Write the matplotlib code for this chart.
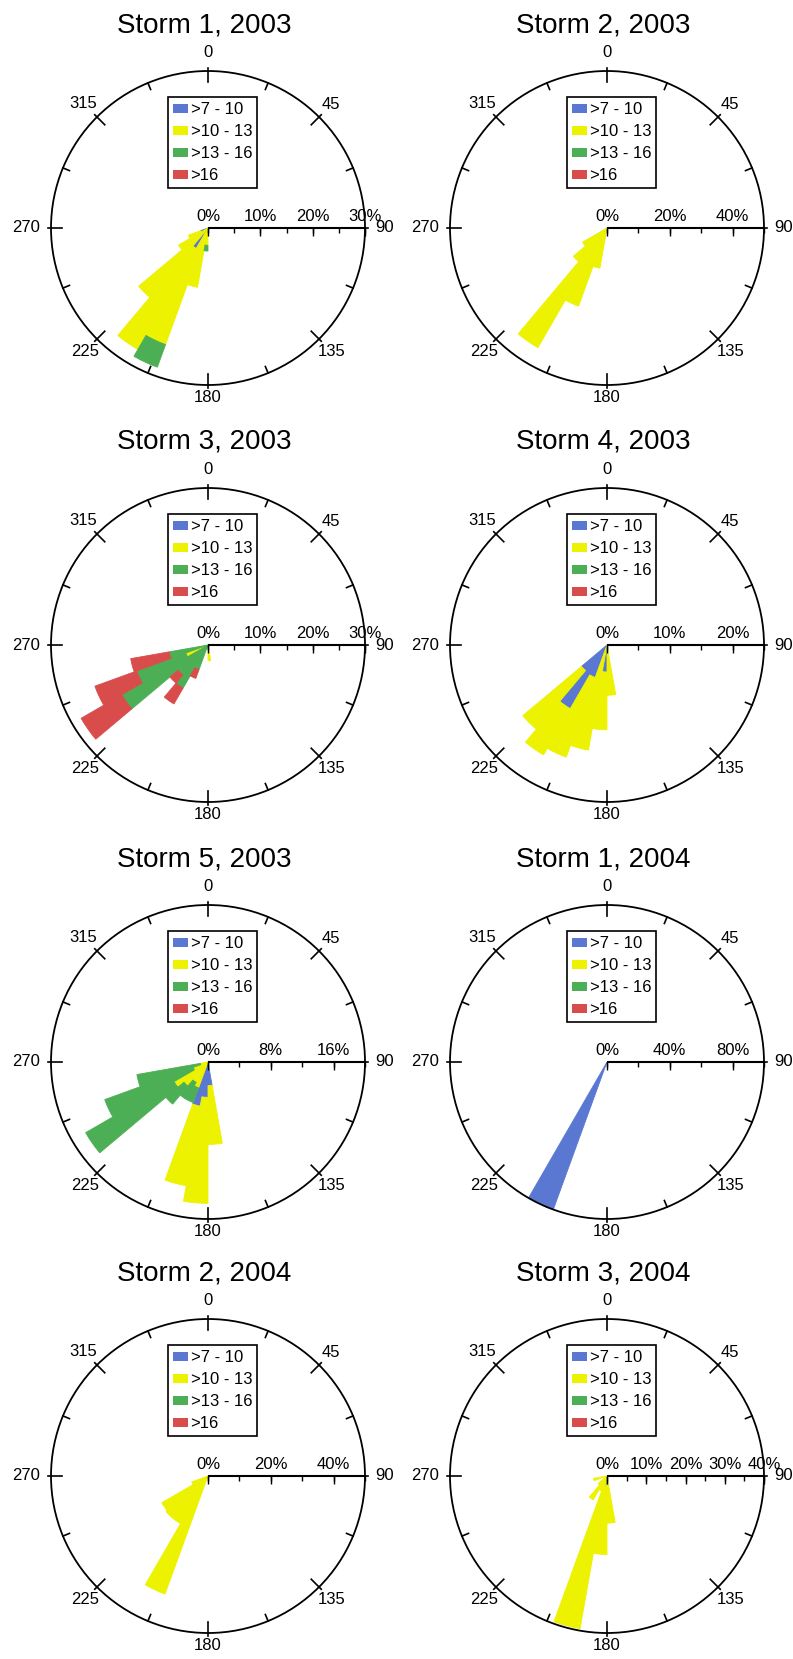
"""
Wind roses for eight storms (2003 / 2004), wind speed classes stacked per 10 deg sector
"""
import numpy as np
import matplotlib
matplotlib.use('Agg')
import matplotlib.pyplot as plt
from matplotlib.patches import Patch
from matplotlib.markers import TICKDOWN

plt.rcParams['font.family'] = ['Liberation Sans', 'DejaVu Sans']

# sector centres (deg from north, clockwise), 10 deg wide
dirs = [165, 175, 185, 195, 205, 215, 225, 235, 245, 255, 265]

speed_labels = ['>7 - 10', '>10 - 13', '>13 - 16', '>16']
speed_colors = ['#5a78d2', '#ecf200', '#4caf55', '#d94c4c']

titles = ['Storm 1, 2003', 'Storm 2, 2003', 'Storm 3, 2003', 'Storm 4, 2003',
          'Storm 5, 2003', 'Storm 1, 2004', 'Storm 2, 2004', 'Storm 3, 2004']

# radial scale of each rose: max, labelled ticks, minor step
r_max = [30, 50, 30, 25, 20, 100, 50, 40]
r_labels = [[0, 10, 20, 30], [0, 20, 40], [0, 10, 20, 30], [0, 10, 20],
            [0, 8, 16], [0, 40, 80], [0, 20, 40], [0, 10, 20, 30, 40]]
r_minor = [5, 10, 5, 5, 4, 20, 10, 5]

# frequencies (%) per sector, one list per speed class
s1_03_blue = [0, 0, 0, 0, 0, 4.5, 0, 0, 1.5, 0, 0]
s1_03_yellow = [0, 0, 3.3, 11.5, 23.7, 22.3, 17.3, 6.5, 2.5, 0, 0]
s1_03_green = [0, 0, 1.1, 0, 4.6, 0, 0, 0, 0, 0, 0]
s1_03_red = [0, 0, 0, 0, 0, 0, 0, 0, 0, 0, 0]

s2_03_blue = [0, 0, 0, 0, 0, 1.5, 0, 0, 0, 0, 0]
s2_03_yellow = [0, 0, 0, 13, 26.5, 42.5, 14, 9, 0, 0, 0]
s2_03_green = [0, 0, 0, 0, 0, 0, 0, 0, 0, 0, 0]
s2_03_red = [0, 0, 0, 0, 0, 0, 0, 0, 0, 0, 0]

s3_03_blue = [0, 0.8, 0, 0, 0, 0, 0, 0, 0, 0, 0]
s3_03_yellow = [0, 2.2, 0, 0, 0, 0, 0, 0, 4.5, 0, 0]
s3_03_green = [0, 0, 0, 0, 5, 9.5, 7.5, 19, 10, 7.5, 0]
s3_03_red = [0, 0, 0, 0, 1.8, 3.5, 2, 9, 8.5, 7.5, 0]

s4_03_blue = [0, 0, 4.3, 0, 5.5, 11.7, 5.3, 0, 0, 0, 0]
s4_03_yellow = [0, 8, 9.2, 17, 13.5, 8.5, 12.2, 0, 0, 0, 0]
s4_03_green = [0, 0, 0, 0, 0, 0, 0, 0, 0, 0, 0]
s4_03_red = [0, 0, 0, 0, 0, 0, 0, 0, 0, 0, 0]

s5_03_blue = [0, 3, 4.5, 5.7, 0, 0, 0, 0, 0, 0, 0]
s5_03_yellow = [0, 7.5, 13.5, 10.3, 3.5, 3, 4, 5, 2, 1, 0]
s5_03_green = [0, 0, 0, 0, 2, 2.5, 3, 13, 12, 8.2, 0]
s5_03_red = [0, 0, 0, 0, 0, 0, 0, 0, 0, 0, 0]

s1_04_blue = [0, 0, 0, 0, 100, 0, 0, 0, 0, 0, 0]
s1_04_yellow = [0, 0, 0, 0, 0, 0, 0, 0, 0, 0, 0]
s1_04_green = [0, 0, 0, 0, 0, 0, 0, 0, 0, 0, 0]
s1_04_red = [0, 0, 0, 0, 0, 0, 0, 0, 0, 0, 0]

s2_04_blue = [0, 0, 0, 0, 0, 0, 0, 0, 0, 0, 0]
s2_04_yellow = [0, 0, 0, 0, 40, 17.5, 17.5, 17, 5.5, 0, 0]
s2_04_green = [0, 0, 0, 0, 0, 0, 0, 0, 0, 0, 0]
s2_04_red = [0, 0, 0, 0, 0, 0, 0, 0, 0, 0, 0]

s3_04_blue = [0, 0, 2.5, 0, 0, 0, 0, 0, 0, 0, 0]
s3_04_yellow = [0, 12, 17.5, 39.5, 4, 7, 3, 0, 0, 3.5, 0]
s3_04_green = [0, 0, 0, 0, 0, 0, 0, 0, 0, 0, 0]
s3_04_red = [0, 0, 0, 0, 0, 0, 0, 0, 0, 0, 0]

storms = [
    (s1_03_blue, s1_03_yellow, s1_03_green, s1_03_red),
    (s2_03_blue, s2_03_yellow, s2_03_green, s2_03_red),
    (s3_03_blue, s3_03_yellow, s3_03_green, s3_03_red),
    (s4_03_blue, s4_03_yellow, s4_03_green, s4_03_red),
    (s5_03_blue, s5_03_yellow, s5_03_green, s5_03_red),
    (s1_04_blue, s1_04_yellow, s1_04_green, s1_04_red),
    (s2_04_blue, s2_04_yellow, s2_04_green, s2_04_red),
    (s3_04_blue, s3_04_yellow, s3_04_green, s3_04_red),
]

W, H = 793, 1659
R = 157  # circle radius in px
col_x = [208, 607]
row_y = [228, 645, 1062, 1476]

# compass labels: radius as fraction of circle, horizontal alignment
label_pos = {0: (1.12, 'center'), 45: (1.11, 'center'), 90: (1.065, 'left'),
             135: (1.11, 'center'), 180: (1.08, 'center'),
             225: (1.11, 'center'), 270: (1.07, 'right'),
             315: (1.12, 'center')}


def draw_rose(ax, rmax, rlab, rstep, classes):
    ax.set_theta_zero_location('N')
    ax.set_theta_direction(-1)
    theta = np.deg2rad(dirs)
    bottom = np.zeros(len(dirs))
    for vals, col in zip(classes, speed_colors):
        vals = np.asarray(vals, dtype=float)
        keep = vals > 0
        # thin edge in the same colour closes the seams between sectors
        ax.bar(theta[keep], vals[keep], width=np.deg2rad(10),
               bottom=bottom[keep], color=col, edgecolor=col, linewidth=0.6,
               align='center', zorder=2)
        bottom += vals
    ax.set_ylim(0, rmax)
    ax.set_xticks([])
    ax.set_yticks([])
    ax.grid(False)
    ax.spines['polar'].set_linewidth(1.3)

    # compass ticks every 22.5 deg
    for a in np.arange(0, 360, 22.5):
        th = np.deg2rad(a)
        if a % 45 == 0:
            r0, r1 = 0.93, 1.02
        else:
            r0, r1 = 0.955, 1.0
        ax.plot([th, th], [rmax * r0, rmax * r1], color='k', lw=1.2,
                clip_on=False, zorder=1)
    for a, (f, ha) in label_pos.items():
        ax.text(np.deg2rad(a), rmax * f, str(a), ha=ha, va='center',
                fontsize=12, clip_on=False)

    # radial axis drawn along east
    east = np.pi / 2
    ax.plot([east, east], [0, rmax], color='k', lw=1.5, clip_on=False,
            solid_capstyle='butt', zorder=3)
    minor = np.arange(0, rmax + 1e-9, rstep / 2.0)
    ax.plot([east] * len(minor), minor, ls='none', marker=TICKDOWN,
            ms=3.5, mew=1.0, color='k', clip_on=False, zorder=3)
    ax.plot([east] * len(rlab), rlab, ls='none', marker=TICKDOWN,
            ms=5.5, mew=1.0, color='k', clip_on=False, zorder=3)
    for v in rlab:
        ax.annotate('%d%%' % v, xy=(east, v), xytext=(0, 3),
                    textcoords='offset points', ha='center', va='bottom',
                    fontsize=12)

    handles = [Patch(facecolor=c, edgecolor='none') for c in speed_colors]
    leg = ax.legend(handles, speed_labels, loc='upper left',
                    bbox_to_anchor=(0.373, 0.917), frameon=True,
                    fancybox=False, edgecolor='black', framealpha=1,
                    fontsize=12, handlelength=0.9, handleheight=0.45,
                    handletextpad=0.15, borderpad=0.3, labelspacing=0.42,
                    borderaxespad=0)
    leg.get_frame().set_linewidth(1.2)


def main():
    fig = plt.figure(figsize=(W / 100, H / 100), dpi=100)
    for i in range(8):
        cx = col_x[i % 2]
        cy = row_y[i // 2]
        ax = fig.add_axes([(cx - R) / W, 1 - (cy + R) / H, 2 * R / W, 2 * R / H],
                          projection='polar')
        draw_rose(ax, r_max[i], r_labels[i], r_minor[i] * 2, storms[i])
        fig.text((cx - 4) / W, 1 - (cy - 203) / H, titles[i], ha='center',
                 va='center', fontsize=20)
    fig.savefig('out.png', dpi=100, facecolor='white')


if __name__ == "__main__":
    main()
